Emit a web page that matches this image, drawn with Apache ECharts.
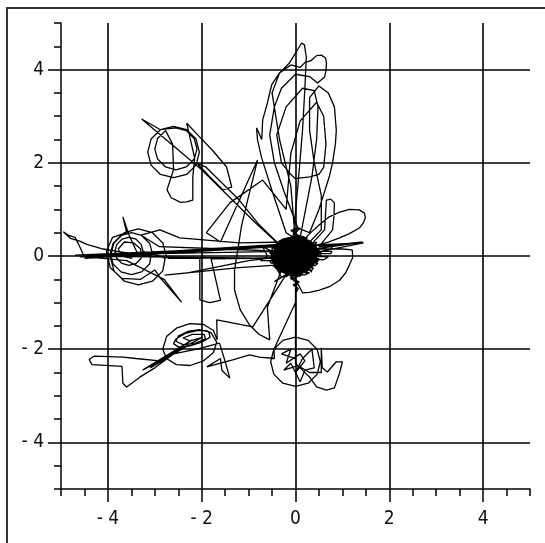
<!DOCTYPE html>
<html><head><meta charset="utf-8">
<script src="https://cdn.jsdelivr.net/npm/echarts@6/dist/echarts.min.js"></script>
<style>html,body{margin:0;padding:0;background:#fff}#c{width:545px;height:543px}</style>
</head><body><div id="c"></div>
<script>
// tick values
const minorTickStep = 0.5;
const majorTicks = [-4, -2, 0, 2, 4];
const axisMin = -5, axisMax = 5;

// trajectory pieces [x, y]
const blobFill = [[-0.1,0.42],[0.15,0.42],[0.25,0.37],[-0.25,0.37],[-0.35,0.32],[0.3,0.32],[0.35,0.27],[-0.4,0.27],[-0.45,0.22],[0.4,0.22],[0.45,0.17],[-0.5,0.17],[-0.5,0.12],[0.5,0.12],[0.55,0.07],[-0.55,0.07],[-0.5,0.02],[0.5,0.02],[0.45,-0.03],[-0.55,-0.03],[-0.5,-0.08],[0.5,-0.08],[0.45,-0.13],[-0.5,-0.13],[-0.45,-0.18],[0.4,-0.18],[0.35,-0.23],[-0.45,-0.23],[-0.4,-0.28],[0.3,-0.28],[0.25,-0.33],[-0.3,-0.33],[-0.2,-0.38],[0.15,-0.38],[0.1,-0.43],[-0.1,-0.43],
  [-0.05,-0.4],[0.2,-0.405],[0.3,-0.355],[-0.25,-0.355],[-0.38,-0.305],[0.35,-0.305],[0.38,-0.255],[-0.42,-0.255],[-0.48,-0.205],[0.42,-0.205],[0.48,-0.155],[-0.52,-0.155],[-0.55,-0.105],[0.48,-0.105],[0.5,-0.055],[-0.5,-0.055],[-0.52,-0.005],[0.55,-0.005],[0.52,0.045],[-0.5,0.045],[-0.55,0.095],[0.5,0.095],[0.48,0.145],[-0.45,0.145],[-0.42,0.195],[0.45,0.195],[0.38,0.245],[-0.4,0.245],[-0.32,0.295],[0.35,0.295],[0.25,0.345],[-0.3,0.345],[-0.15,0.395],[0.2,0.395],[0.05,0.45],[-0.05,0.2],
  [0.3,0.25],[0.75,0.2],[0.8,0.15],[0.3,0.15],[0.3,0.1],[0.78,0.1],[0.75,0.05],[0.3,0.05],[0.35,0.0],[0.7,-0.02],[0.6,-0.08],[0.3,-0.06],
  [0.1,-0.4],[-0.08,-0.5],[0.08,-0.55],[-0.05,-0.62],[0.06,-0.7],[0.0,-0.8],[0.03,-0.6],[-0.1,-0.45],
  [-0.05,0.45],[0.1,0.6],[-0.1,0.55],[0.05,0.45],[-0.5,0.1],[-0.7,0.2],[-0.6,0.0],[-0.75,-0.1],[-0.5,-0.1],[-0.3,-0.45],[-0.45,-0.55],[-0.2,-0.4]];
const blobA = [[0,0],[0.3,0.2],[-0.2,-0.3],[0.25,-0.1],[-0.35,0.15],[0.1,0.35],[0.2,-0.35],[-0.3,-0.1],[0.4,0.1],[-0.1,0.3],[0.05,-0.45],[-0.4,0.05],[0.35,0.3],[-0.15,-0.25],[0.3,-0.25],[-0.25,0.3],[0.15,0.05],[-0.45,-0.2],[0.45,-0.05],[0,0.4],[-0.1,-0.5],[0.2,0.25],[-0.35,-0.35],[0.4,0.2],[-0.2,0.1],[0.1,-0.2],[-0.3,0.35],[0.3,0],[-0.05,-0.3],[0.25,0.4],[-0.4,-0.05]];
const leftCluster = [[-0.3,0.22],[-4.6,-0.02],[-0.35,0.25],[-4.5,-0.05],[-0.4,0.2],[-4.4,0.0],[-0.4,-0.05],[-1.5,-0.04],[-2.7,-0.05],
  [-2.75,-0.02],[-2.83,0.28],[-3.05,0.5],[-3.35,0.58],[-3.65,0.5],[-3.87,0.28],[-3.95,-0.02],[-3.87,-0.32],[-3.65,-0.54],[-3.35,-0.62],[-3.05,-0.54],[-2.83,-0.32],[-2.78,-0.05],
  [-3.05,0.05],[-3.11,0.27],[-3.28,0.44],[-3.5,0.5],[-3.72,0.44],[-3.89,0.27],[-3.95,0.05],[-3.89,-0.17],[-3.72,-0.34],[-3.5,-0.4],[-3.28,-0.34],[-3.11,-0.17],[-3.08,0.02],
  [-3.25,0.1],[-3.29,0.25],[-3.4,0.36],[-3.55,0.4],[-3.7,0.36],[-3.81,0.25],[-3.85,0.1],[-3.81,-0.05],[-3.7,-0.16],[-3.55,-0.2],[-3.4,-0.16],[-3.29,-0.05],[-3.3,0.15],[-3.45,0.28],[-3.65,0.3],[-3.78,0.15],[-3.7,0.0],[-3.5,-0.05],[-3.38,0.08],
  [-3.55,0.45],[-3.68,0.84],[-3.6,0.5],[-3.9,0.4],[-4.03,0.1],[-3.95,-0.25],[-3.7,-0.48],[-3.3,-0.5],[-3.0,-0.3],
  [-2.9,-0.45],[-2.43,-0.99],[-2.8,-0.5],[-3.1,-0.35],[-3.6,-0.1],[-4.1,-0.05],[-4.5,-0.02],[-4.6,0.2],[-4.7,0.4],[-4.85,0.45],[-4.95,0.52],[-4.8,0.38],[-4.6,0.32],[-4.45,0.25],[-4.1,0.15],[-3.8,0.1],[-3.3,0.02],[-2.6,-0.05],[-2.04,-0.05],[-2.04,-0.94],[-1.83,-1.0],[-1.6,-0.95],[-1.8,-0.06],[-0.9,-0.05],[-0.3,-0.03],
  [-0.2,0.3],[-1.2,0.28],[-2.47,0.39],[-2.89,0.56],[-3.3,0.45],[-2.9,0.2],[-1.5,0.15],[-0.3,0.1],[-4.7,0.02],[1.45,0.28],[0.3,0.05],[-0.34,-0.19],[-1.2,-0.25],[-2.79,-0.41],[-2.3,-0.36],[-1.0,-0.1],[-0.2,0.0]];
const upperLeft = [[-0.3,0.2],[-0.85,0.71],[-2.0,1.85],[-3.28,2.94],
  [-2.88,2.71],[-2.6,2.78],[-2.32,2.71],[-2.12,2.51],[-2.05,2.23],[-2.12,1.95],[-2.32,1.75],[-2.6,1.68],[-2.88,1.75],[-3.08,1.95],[-3.15,2.23],[-3.08,2.51],[-2.88,2.71],
  [-2.55,2.75],[-2.33,2.69],[-2.16,2.52],[-2.1,2.3],[-2.16,2.08],[-2.33,1.91],[-2.55,1.85],[-2.77,1.91],[-2.94,2.08],[-3.0,2.3],[-2.94,2.52],[-2.77,2.69],
  [-2.62,2.4],[-2.6,1.85],[-2.74,1.42],[-2.65,1.25],[-2.45,1.15],[-2.32,1.16],[-2.19,1.2],[-2.19,1.7],[-2.15,2.1],[-2.32,2.85],[-2.04,2.55],[-1.77,2.27],[-1.47,1.91],[-1.36,1.48],[-1.55,1.42],[-1.83,1.7],[-2.11,2.0],[-1.9,1.9],[-1.6,1.6],[-1.2,1.2],[-0.8,0.7],[-0.4,0.3]];
const upLobe = [[0.0,0.3],[-0.1,1.5],[-0.34,2.5],[-0.5,3.5],[-0.34,3.93],[-0.13,4.14],[0.04,4.42],[0.13,4.57],[0.19,4.53],[0.23,4.27],[0.2,3.6],[0.15,2.7],[0.05,1.5],[-0.05,0.4],[-0.2,0.5],[-0.5,1.4],[-0.72,2.1],[-0.81,2.49],[-0.83,2.75],[-0.72,2.5],[-0.7,2.92],[-0.6,3.28],[-0.51,3.67],[-0.34,3.93],[-0.1,4.1],[0.1,4.05],[0.2,4.15],[0.34,4.2],[0.45,4.3],[0.55,4.31],[0.64,4.25],[0.66,4.14],[0.65,3.98],[0.62,3.84],[0.47,3.71],[0.3,3.85],[0.0,3.9],[-0.3,3.6],[-0.45,3.2],[-0.55,2.6],[-0.45,2.0],[-0.25,1.4],[0.05,0.6],[0.3,0.5],[0.5,1.0],[0.72,1.7],[0.79,2.0],[0.85,2.4],[0.87,2.7],[0.83,3.2],[0.7,3.5],[0.5,3.65],[0.3,3.4],[0.3,2.7],[0.4,2.0],[0.55,1.3],[0.55,0.56],[0.3,0.3],[0.1,0.4],[0.35,1.7],[0.45,2.5],[0.48,3.2],[0.4,3.55],[0.15,3.6],[-0.2,3.2],[-0.4,2.6],[-0.3,2.0],[-0.1,1.75],[0.0,1.66],[0.3,1.7],[0.5,1.75],[0.6,1.9],[0.65,2.4],[0.6,3.0],[0.45,3.3],[0.1,2.9],[-0.1,2.2],[-0.2,1.0],[-0.7,1.63],[-1.4,1.14],[-1.9,0.5],[-1.6,0.3],[-0.81,2.06],[-0.92,1.6],[-1.02,1.2],[-1.15,0.65],[-1.23,0.13],[-1.3,-0.3],[-1.3,-0.73],[-1.18,-1.15],[-0.98,-1.48],[-0.78,-1.68],[-0.55,-1.8],[-0.6,-1.1],[-0.3,-0.3]];
const lowerLeft = [[-0.2,-0.4],[-0.91,-1.52],[-1.68,-1.37],
  [-1.67,-1.8],[-1.75,-1.6],[-1.96,-1.47],[-2.25,-1.45],[-2.54,-1.55],[-2.75,-1.73],[-2.83,-2.0],[-2.75,-2.2],[-2.54,-2.33],[-2.25,-2.35],[-1.96,-2.25],[-1.75,-2.07],[-1.68,-1.85],
  [-1.8,-1.65],[-1.9,-1.6],[-2.1,-1.6],[-2.35,-1.66],[-2.55,-1.78],[-2.6,-1.88],[-2.5,-1.95],[-2.25,-1.93],[-2.0,-1.85],[-1.82,-1.74],[-1.85,-1.63],[-2.05,-1.58],[-2.3,-1.62],[-2.5,-1.72],[-2.55,-1.83],[-2.4,-1.9],[-2.15,-1.88],[-1.92,-1.78],[-1.95,-1.68],[-2.2,-1.68],[-2.4,-1.76],[-2.25,-1.82],[-2.0,-1.75],
  [-3.26,-2.45],[-2.2,-1.8],[-3.1,-2.4],[-2.0,-1.75],[-2.9,-2.25],[-3.4,-2.2],[-3.68,-2.17],[-4.3,-2.15],[-4.4,-2.22],[-4.34,-2.33],[-3.7,-2.37],[-3.68,-2.73],[-3.6,-2.81],[-3.32,-2.6],[-3.0,-2.4],[-2.6,-2.1],[-2.1,-2.0],[-1.62,-1.87],[-1.51,-2.23],[-1.4,-2.62],[-1.57,-2.45],[-1.6,-2.2],[-1.89,-2.38],[-1.34,-2.23],[-0.98,-2.12],[-0.77,-2.17],[-0.45,-2.2]];
const bottomCluster = [[-0.46,-2.0],[-0.27,-1.81],[0,-1.74],[0.27,-1.81],[0.46,-2.0],[0.53,-2.27],[0.46,-2.54],[0.27,-2.73],[0,-2.8],[-0.27,-2.73],[-0.46,-2.54],[-0.53,-2.27],[-0.46,-2.0],[0.0,-1.0],[0.0,-0.6],[0.0,-1.5],[0.0,-2.2],[-0.3,-2.1],[-0.1,-2.0],[-0.2,-2.3],[0.1,-2.1],[0.2,-2.25],[0.0,-2.5],[0.15,-2.2],[0.35,-2.0],[0.4,-2.4],[0.2,-2.45],[0.1,-2.7],[-0.1,-2.3],[-0.25,-2.45],[0.05,-2.35],[0.3,-2.5],[0.55,-2.5],[0.55,-1.97],[0.57,-2.4],[0.68,-2.49],[0.87,-2.27],[1.0,-2.27],[0.94,-2.51],[0.83,-2.83],[0.66,-2.88],[0.45,-2.81],[0.3,-2.6],[0.0,-2.3],[0.0,-0.8],[0.0,-0.3]];
const rightLoops = [[0.09,0.24],[0.3,0.48],[0.51,0.67],[0.72,0.84],[0.94,0.94],[1.15,1.0],[1.36,0.99],[1.47,0.92],[1.49,0.82],[1.44,0.7],[1.36,0.6],[1.15,0.48],[0.94,0.39],[0.7,0.3],[0.47,0.24],[0.2,0.1],[0.62,0.56],[0.64,0.9],[0.66,1.2],[0.75,1.22],[0.83,1.14],[0.82,0.85],[0.79,0.56],[0.5,0.2],[1.43,0.3],[0.4,0.15],[1.0,0.15],[1.21,0.13],[1.22,-0.03],[1.15,-0.19],[1.07,-0.36],[0.94,-0.52],[0.74,-0.65],[0.51,-0.73],[0.3,-0.78],[0.15,-0.79],[0.0,-0.5]];
const blobB = [[-0.3,-0.3],[0.35,0.25],[-0.4,0.2],[0.2,-0.25],[-0.1,0.35],[0.4,-0.15],[-0.35,-0.1],[0.15,0.3],[-0.2,-0.45],[0.3,0.05],[-0.45,0.1],[0.1,-0.35],[0.45,0.3],[-0.25,0.05],[0.05,0.2],[-0.15,-0.1],[0.25,0.15],[-0.3,0.3],[0.35,-0.35],[0,0.1]];

const path = [].concat(blobFill, blobA, leftCluster, upperLeft, upLobe, lowerLeft, bottomCluster, rightLoops, blobB);

const fontFam = "'Liberation Sans Narrow','DejaVu Sans Condensed','Liberation Sans',sans-serif";
const fmt = v => v < 0 ? '- ' + Math.abs(v) : String(v);

const chart = echarts.init(document.getElementById('c'), null, {renderer: 'canvas'});
const baseAxis = (extra) => Object.assign({
  type: 'value', min: axisMin, max: axisMax, splitLine: {show: false}
}, extra);

chart.setOption({
  animation: false,
  backgroundColor: '#fff',
  grid: {left: 61, right: 15, top: 23, bottom: 54, containLabel: false},
  xAxis: [
    baseAxis({position: 'bottom', interval: minorTickStep,
      axisLine: {show: true, onZero: false, lineStyle: {color: '#000', width: 1.5}},
      axisTick: {show: true, length: 7, lineStyle: {color: '#000', width: 1.5}},
      axisLabel: {show: false}}),
    baseAxis({position: 'bottom',
      axisLine: {show: false, onZero: false},
      axisTick: {show: true, length: 13, customValues: majorTicks, lineStyle: {color: '#000', width: 1.5}},
      axisLabel: {show: true, customValues: majorTicks, formatter: fmt, margin: 21,
        fontFamily: fontFam, fontSize: 19, color: '#111'}})
  ],
  yAxis: [
    baseAxis({position: 'left', interval: minorTickStep,
      axisLine: {show: true, onZero: false, lineStyle: {color: '#000', width: 1.5}},
      axisTick: {show: true, length: 7, lineStyle: {color: '#000', width: 1.5}},
      axisLabel: {show: false}}),
    baseAxis({position: 'left',
      axisLine: {show: false, onZero: false},
      axisTick: {show: true, length: 13, customValues: majorTicks, lineStyle: {color: '#000', width: 1.5}},
      axisLabel: {show: true, customValues: majorTicks, formatter: fmt, margin: 17,
        fontFamily: fontFam, fontSize: 19, color: '#111'}})
  ],
  series: [{
    type: 'line', xAxisIndex: 0, yAxisIndex: 0,
    data: path, symbol: 'none', smooth: false,
    lineStyle: {color: '#000', width: 1.3},
    silent: true,
    markLine: {
      silent: true, symbol: ['none', 'none'], label: {show: false},
      lineStyle: {color: '#000', width: 1.6, type: 'solid'},
      data: majorTicks.map(v => ({xAxis: v})).concat(majorTicks.map(v => ({yAxis: v})))
    }
  }],
  graphic: [
    {type: 'line', shape: {x1: 6, y1: 8, x2: 545, y2: 8}, style: {stroke: '#333', lineWidth: 2}},
    {type: 'line', shape: {x1: 7, y1: 8, x2: 7, y2: 543}, style: {stroke: '#333', lineWidth: 2}}
  ]
});
</script></body></html>
